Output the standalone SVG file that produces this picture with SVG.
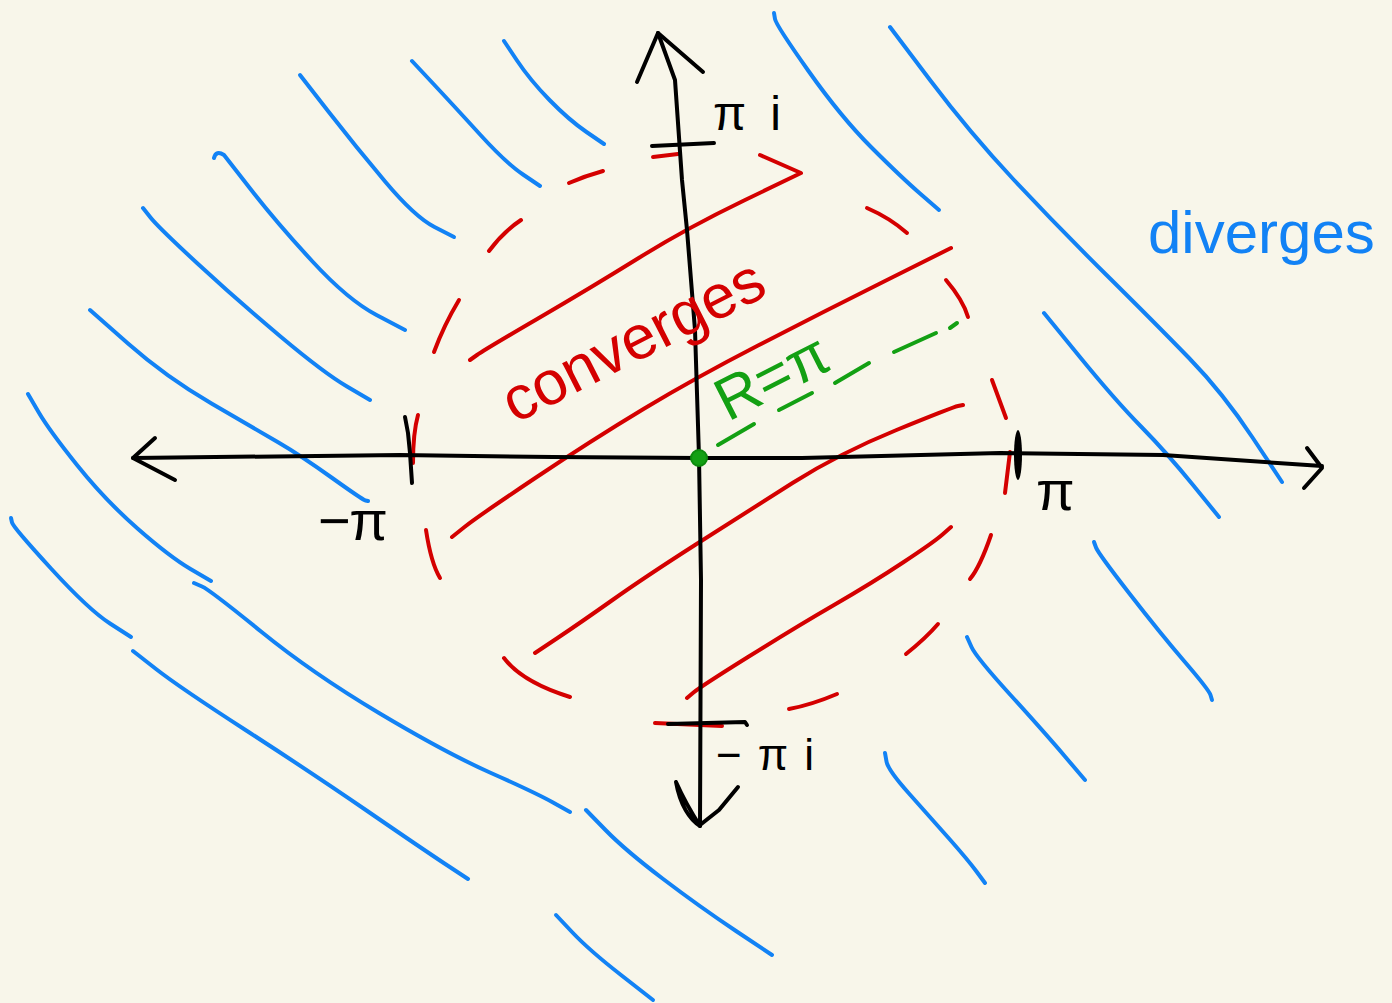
<svg xmlns="http://www.w3.org/2000/svg" width="1392" height="1003" viewBox="0 0 1392 1003">
<style>
.s{fill:none;stroke-linecap:round;stroke-linejoin:round}
.k{stroke:#000;stroke-width:4}
.r{stroke:#d40000;stroke-width:4}
.b{stroke:#1282f5;stroke-width:4}
.g{stroke:#13a013;stroke-width:4}
.t{font-family:"Liberation Sans",Arial,sans-serif}
</style>
<rect width="1392" height="1003" fill="#f8f6ea"/>
<g id="diverge-hatching" class="s b">
<path d="M504,41 L517,60.5 Q530,80 549.5,100 Q569,120 586.5,132 L604,144"/>
<path d="M412,61 L433.5,84 Q455,107 480.5,135 Q506,163 523,174.5 L540,186"/>
<path d="M300,75 L328,111 Q356,147 385.5,182 Q415,217 434.5,227 L454,237"/>
<path d="M214,158 Q216,150 224,155 L250.5,189 Q277,223 312.5,261.5 Q348,300 376.5,315 L405,330"/>
<path d="M143,208 L150.5,217.5 Q158,227 197.5,263.5 Q237,300 280.5,336.5 Q324,373 347,386.5 L370,400"/>
<path d="M90,310 L128,343.5 Q166,377 211.5,403.5 Q257,430 278.5,442.5 Q300,455 331.5,477.5 Q363,500 365.5,500.5 L368,501"/>
<path d="M28,394 L38.5,412 Q49,430 77,465 Q105,500 137.5,528.5 Q170,557 190.5,569 L211,581"/>
<path d="M11,518 L12,522.5 Q13,527 51,568.5 Q89,610 110,623.5 L131,637"/>
<path d="M194,583 L202,586.5 Q210,590 261,631.5 Q312,673 379,713 Q446,753 491,773 Q536,793 553,802.5 L570,812"/>
<path d="M133,651 L156,669 Q179,687 245.5,730 Q312,773 368,811.5 Q424,850 446,864.5 L468,879"/>
<path d="M586,810 L605.5,830 Q625,850 662.5,878.5 Q700,907 736,931 L772,955"/>
<path d="M556,915 L572.5,932.5 Q589,950 621,975 L653,1000"/>
<path d="M885,753 L886.5,761.5 Q888,770 909,793.5 Q930,817 949,838.5 Q968,860 976.5,871.5 L985,883"/>
<path d="M967,637 L971.5,647 Q976,657 1010.5,695 Q1045,733 1065,756.5 L1085,780"/>
<path d="M1094,542 L1096,547.5 Q1098,553 1129,593 Q1160,633 1184.5,661.5 Q1209,690 1210.5,695 L1212,700"/>
<path d="M1044,313 L1079.5,356.5 Q1115,400 1141,426.5 Q1167,453 1193,485 L1219,517"/>
<path d="M890,27 L930,80 Q970,133 1014,180 Q1058,227 1106.5,275 Q1155,323 1189,358 Q1223,393 1252.5,437.5 L1282,482"/>
<path d="M774,13 L775,19 Q776,25 808.5,71 Q841,117 871,147 Q901,177 920,193.5 L939,210"/>
</g>
<g id="converge-boundary" class="s r">
<path d="M653,157 L678,154"/>
<path d="M569,183 Q585,176 603,171"/>
<path d="M489,251 Q503,232 521,220"/>
<path d="M434,352 Q444,325 459,300"/>
<path d="M418,415 Q413,433 413,463"/>
<path d="M426,530 Q431,563 440,578"/>
<path d="M504,658 Q522,682 570,697"/>
<path d="M655,723 L722,726"/>
<path d="M789,709 Q811,705 837,694"/>
<path d="M906,654 Q926,638 938,624"/>
<path d="M970,579 Q980,567 991,535"/>
<path d="M1010,452 L1005,493"/>
<path d="M992,380 L1006,418"/>
<path d="M946,280 Q963,300 968,317"/>
<path d="M867,208 Q890,218 907,233"/>
</g>
<g id="converge-hatching" class="s r">
<path d="M470,360 L477,355 Q484,350 538,318.5 Q592,287 639.5,257.5 Q687,228 744,200.5 L801,173 L760,155"/>
<path d="M452,537 L464.5,527 Q477,517 534.5,478.5 Q592,440 643.5,409 Q695,378 758,345.5 Q821,313 886,280.5 L951,248"/>
<path d="M535,653 L557.5,638 Q580,623 612.5,600 Q645,577 695,545 Q745,513 792.5,483 Q840,453 896.5,430 Q953,407 958,406 L963,405"/>
<path d="M687,698 L693.5,692.5 Q700,687 748,657 Q796,627 834,605 Q872,583 903,562.5 Q934,542 942.5,534.5 L951,527"/>
</g>
<g id="axes" class="s k">
<polyline points="133,458 400,455 553,457 699,458 802,458 1000,453 1163,455 1322,466"/>
<polyline points="155,438 133,458 175,480"/>
<polyline points="1307,448 1322,468 1304,488"/>
<polyline points="658,33 675,80 682,180 687,230 695,330 699,457 701,580 700,826"/>
<polyline points="637,82 658,33 703,72"/>
<path d="M676,782 C680,805 690,820 700,826 M676,782 C684,800 693,815 700,826"/>
<polyline points="738,787 719,810 700,825"/>
</g>
<g id="ticks" class="s k">
<polyline points="652,146 714,143"/>
<polyline points="668,724 745,722 747,725"/>
<polyline points="405,417 408,433 410,453 412,483"/>
<ellipse cx="1018" cy="455" rx="4" ry="25" fill="#000" stroke="none"/>
</g>
<g id="radius" class="s g">
<path d="M718,445 L754,424"/>
<path d="M779,410 L812,393"/>
<path d="M835,383 L869,363"/>
<path d="M894,352 L936,333"/>
<path d="M950,328 L957,323"/>
<circle cx="699" cy="458" r="8" fill="#13a013" stroke="#0d8a0d" stroke-width="2"/>
</g>
<g id="labels" class="t">
<text x="713" y="130" font-size="48" textLength="68" lengthAdjust="spacing" fill="#000">πi</text>
<text x="716" y="770" font-size="44" textLength="98" lengthAdjust="spacing" fill="#000">−πi</text>
<text x="318" y="540" font-size="56" textLength="70" lengthAdjust="spacing" fill="#000">−π</text>
<text x="1036" y="510" font-size="56" fill="#000">π</text>
<text x="1148" y="253" font-size="60" fill="#1282f5">diverges</text>
<text x="0" y="0" font-size="62" fill="#d40000" transform="translate(515,424) rotate(-27)">converges</text>
<text x="0" y="0" font-size="60" fill="#13a013" transform="translate(728,422) rotate(-27)">R=π</text>
</g>
</svg>
